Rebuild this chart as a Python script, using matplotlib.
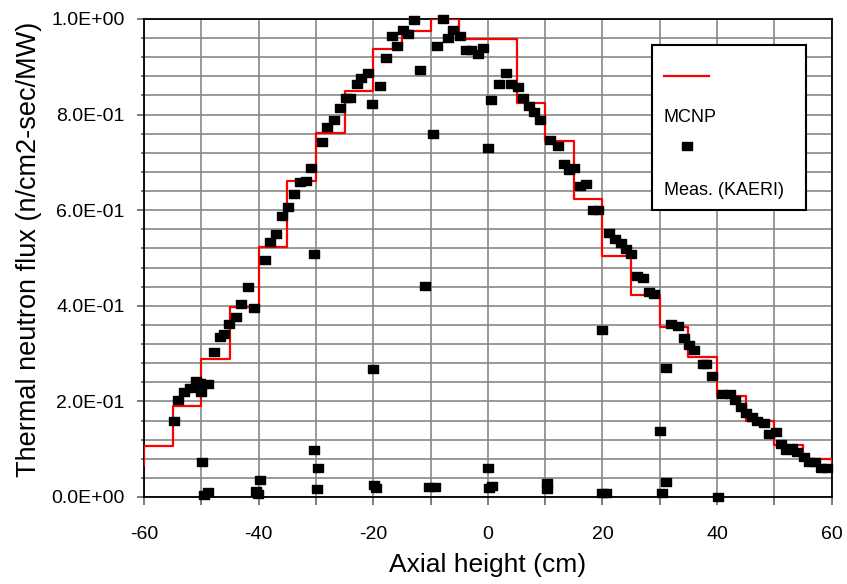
import matplotlib
matplotlib.use("Agg")
import matplotlib.pyplot as plt
from matplotlib.ticker import MultipleLocator, FuncFormatter
from matplotlib.patches import Rectangle

plt.rcParams['font.family'] = ['Liberation Sans', 'DejaVu Sans']
plt.rcParams['axes.unicode_minus'] = False

# --- MCNP 계산값 (5 cm 구간별 계단) ---
mcnp_edges = [-60, -55, -50, -45, -40, -35, -30, -25, -20, -15, -10, -5, 0,
              5, 10, 15, 20, 25, 30, 35, 40, 45, 50, 55, 60]
mcnp_flux = [0.107, 0.191, 0.288, 0.397, 0.522, 0.661, 0.761, 0.849, 0.937, 0.975,
             0.999, 0.958, 0.958, 0.824, 0.745, 0.623, 0.505, 0.423, 0.355, 0.292,
             0.212, 0.158, 0.109, 0.079]
mcnp_start = 0.067
mcnp_end = 0.053

# --- 측정값 (KAERI) ---
meas_x = [-54.8, -54.1, -53.1, -52.0, -50.9, -50.2, -50.0, -48.8, -47.8, -46.7,
          -46.0, -45.1, -44.0, -43.0, -41.9, -40.8, -38.9, -38.0, -37.0, -35.9,
          -34.8, -33.9, -32.8, -31.8, -30.9, -29.0, -28.0, -26.9, -25.8, -24.8,
          -24.0, -22.9, -22.2, -20.9, -20.2, -18.9, -17.8, -16.7, -15.9, -14.8,
          -13.9, -12.9, -11.9, -8.9, -7.8, -7.0, -6.0, -4.8, -3.9, -2.9,
          -1.7, -0.9, 0.6, 2.0, 3.2, 4.1, 5.2, 6.1, 7.1, 8.0,
          9.1, 10.9, 12.2, 13.2, 14.2, 15.1, 16.0, 17.1, 18.3, 19.3,
          21.1, 22.1, 23.2, 24.1, 25.0, 26.1, 27.1, 28.2, 29.0, 32.0,
          33.1, 34.3, 35.1, 36.0, 37.5, 38.0, 39.1, 40.9, 42.2, 43.1,
          44.1, 45.0, 46.1, 47.0, 48.1, 49.1, 50.2, 51.1, 52.1, 53.0,
          54.0, 55.1, 56.0, 57.1, 58.1, 59.2,
          -30.3, -20.0, -11.0, -9.5, 0.0, 19.9, 31.0, 30.0,
          -49.8, -49.5, -48.8, -40.4, -40.1, -39.8, -30.3, -29.6, -29.9, -19.9,
          -19.6, -10.2, -9.3, 0.1, 0.2, 0.8, 10.3, 10.3, 20.0, 20.6,
          30.4, 31.1, 40.1]
meas_flux = [0.160, 0.202, 0.219, 0.227, 0.243, 0.239, 0.219, 0.236, 0.303, 0.335,
             0.340, 0.361, 0.377, 0.404, 0.440, 0.395, 0.496, 0.533, 0.550, 0.588,
             0.607, 0.633, 0.658, 0.662, 0.688, 0.742, 0.775, 0.789, 0.813, 0.835,
             0.835, 0.863, 0.876, 0.886, 0.822, 0.860, 0.918, 0.964, 0.944, 0.977,
             0.968, 0.998, 0.893, 0.944, 1.001, 0.960, 0.977, 0.964, 0.935, 0.935,
             0.926, 0.939, 0.831, 0.864, 0.886, 0.864, 0.858, 0.834, 0.818, 0.805,
             0.789, 0.747, 0.734, 0.696, 0.684, 0.688, 0.651, 0.655, 0.600, 0.600,
             0.553, 0.539, 0.531, 0.518, 0.508, 0.462, 0.458, 0.428, 0.424, 0.362,
             0.358, 0.332, 0.319, 0.308, 0.278, 0.278, 0.253, 0.215, 0.215, 0.203,
             0.189, 0.175, 0.167, 0.160, 0.155, 0.131, 0.135, 0.110, 0.098, 0.102,
             0.095, 0.084, 0.073, 0.073, 0.060, 0.060,
             0.508, 0.267, 0.441, 0.759, 0.730, 0.349, 0.269, 0.139,
             0.073, 0.005, 0.010, 0.013, 0.006, 0.036, 0.098, 0.060, 0.016, 0.025,
             0.018, 0.020, 0.020, 0.060, 0.018, 0.022, 0.030, 0.016, 0.009, 0.009,
             0.009, 0.031, 0.001]

# 계단선 좌표 만들기
step_x = [mcnp_edges[0]]
step_y = [mcnp_start]
for i, v in enumerate(mcnp_flux):
    step_x += [mcnp_edges[i], mcnp_edges[i + 1]]
    step_y += [v, v]
step_x.append(mcnp_edges[-1])
step_y.append(mcnp_end)

# 가로로 약간 긴 사각 마커
rect_marker = [(-1.25, -1), (1.25, -1), (1.25, 1), (-1.25, 1), (-1.25, -1)]

fig = plt.figure(figsize=(8.47, 5.84), dpi=100)
ax = fig.add_axes([0.170, 0.149, 0.812, 0.8185])

ax.plot(step_x, step_y, color='#ff0000', lw=1.6, zorder=3)
ax.plot(meas_x, meas_flux, linestyle='none', marker=rect_marker, markersize=7.5,
        color='black', zorder=4, clip_on=False)

ax.set_xlim(-60, 60)
ax.set_ylim(0, 1.0)
ax.xaxis.set_major_locator(MultipleLocator(20))
ax.xaxis.set_minor_locator(MultipleLocator(10))
ax.yaxis.set_major_locator(MultipleLocator(0.2))
ax.yaxis.set_minor_locator(MultipleLocator(0.04))
ax.yaxis.set_major_formatter(FuncFormatter(lambda v, p: f"{v:.1E}"))

ax.grid(True, which='both', color='#888888', lw=1.2, zorder=0)
ax.set_axisbelow(True)
for sp in ax.spines.values():
    sp.set_color('black')
    sp.set_linewidth(1.3)

ax.tick_params(axis='y', which='major', direction='out', length=5, width=1.2,
               color='#666666', labelsize=14, pad=9)
ax.tick_params(axis='y', which='minor', direction='out', length=2, width=1.2, color='#666666')
ax.tick_params(axis='x', which='both', direction='out', length=6, width=1.2,
               color='#666666', labelsize=14, pad=15)
ax.tick_params(axis='x', which='minor', labelbottom=False)

ax.set_xlabel('Axial height (cm)', fontsize=19, labelpad=7)
ax.set_ylabel('Thermal neutron flux (n/cm2-sec/MW)', fontsize=19.5)
ax.yaxis.set_label_coords(-0.149, 0.517)

# 범례 (엑셀식 배치)
ax.add_patch(Rectangle((0.738, 0.600), 0.224, 0.346, transform=ax.transAxes,
                       facecolor='white', edgecolor='black', lw=1.5, zorder=5))
ax.plot([0.756, 0.821], [0.881, 0.881], transform=ax.transAxes, color='#ff0000',
        lw=1.6, zorder=6)
ax.text(0.756, 0.794, 'MCNP', transform=ax.transAxes, fontsize=13,
        va='center', ha='left', zorder=6)
ax.plot([0.789], [0.734], transform=ax.transAxes, linestyle='none',
        marker=rect_marker, markersize=7.5, color='black', zorder=6)
ax.text(0.756, 0.642, 'Meas. (KAERI)', transform=ax.transAxes, fontsize=13,
        va='center', ha='left', zorder=6)

fig.savefig('out.png', dpi=100)
